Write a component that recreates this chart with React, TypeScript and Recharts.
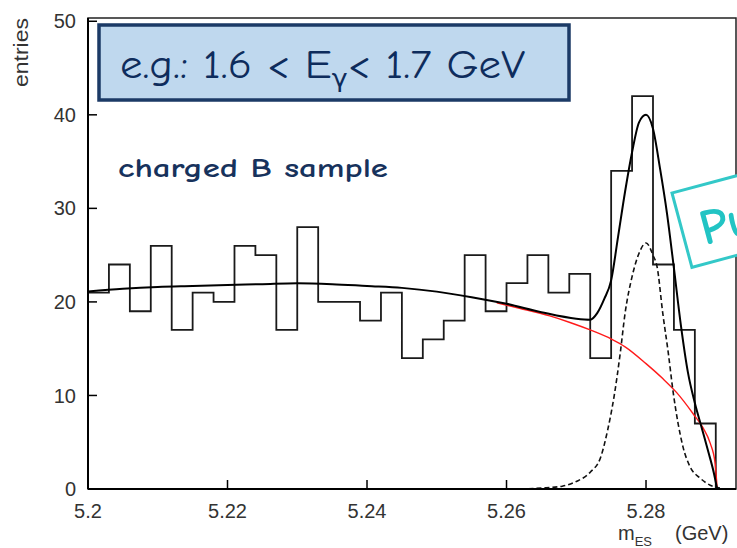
import { ComposedChart, Line, XAxis, YAxis, ReferenceArea } from 'recharts';

// histogram: 30 bins of 3 MeV between 5.20 and 5.29 GeV
const binEdges = [
  5.2, 5.203, 5.206, 5.209, 5.212, 5.215, 5.218, 5.221, 5.224, 5.227,
  5.23, 5.233, 5.236, 5.239, 5.242, 5.245, 5.248, 5.251, 5.254, 5.257,
  5.26, 5.263, 5.266, 5.269, 5.272, 5.275, 5.278, 5.281, 5.284, 5.287, 5.29,
];
const binCounts = [
  21, 24, 19, 26, 17, 21, 20, 26, 25, 17,
  28, 20, 20, 18, 21, 14, 16, 18, 25, 19,
  22, 25, 21, 23, 14, 34, 42, 24, 17, 7,
];

// total fit (background + signal)
const fitMass = [
  5.2, 5.205, 5.21, 5.215, 5.22, 5.225, 5.23, 5.235, 5.24, 5.245,
  5.25, 5.255, 5.26, 5.265, 5.27, 5.272, 5.273, 5.274, 5.275, 5.276,
  5.277, 5.278, 5.279, 5.28, 5.281, 5.282, 5.283, 5.284, 5.285, 5.286,
  5.287, 5.288, 5.289, 5.2897, 5.2902,
];
const fitTotal = [
  21.1, 21.4, 21.6, 21.7, 21.8, 21.9, 22.0, 21.9, 21.7, 21.5,
  21.1, 20.5, 19.8, 18.9, 18.2, 18.1, 18.8, 20.3, 22.3, 27.0,
  31.8, 36.0, 39.2, 40.0, 38.5, 34.3, 29.5, 23.6, 17.5, 12.5,
  9.2, 6.5, 3.8, 1.8, 0,
];

// signal component (dashed)
const sigMass = [
  5.262, 5.265, 5.268, 5.27, 5.272, 5.2735, 5.2745, 5.2754, 5.2763, 5.277,
  5.278, 5.279, 5.28, 5.281, 5.2816, 5.2824, 5.2832, 5.2839, 5.2846, 5.2853,
  5.2863, 5.2877, 5.2892, 5.2906,
];
const sigCounts = [
  0, 0.1, 0.3, 0.8, 1.8, 3.4, 6.3, 9.8, 14.5, 18.8,
  22.7, 25.2, 26.3, 25.0, 23.7, 18.8, 14.5, 10.3, 7.0, 4.5,
  2.4, 1.2, 0.4, 0.1,
];

// background component (red)
const bkgMass = [
  5.2586, 5.262, 5.2662, 5.2691, 5.272, 5.2751, 5.277, 5.28, 5.2824, 5.2844,
  5.2867, 5.2882, 5.2892, 5.2899, 5.2902,
];
const bkgCounts = [
  19.9, 19.3, 18.5, 17.8, 17.0, 16.0, 15.2, 13.4, 11.8, 10.3,
  8.1, 6.5, 4.9, 2.8, 0,
];

const xTicks = [5.2, 5.22, 5.24, 5.26, 5.28];
const yTicks = [0, 10, 20, 30, 40, 50];
const xDomain = [5.2, 5.2929];
const yDomain = [0, 50.35];

const histData = binEdges.map((m, i) => ({ m, y: i < binCounts.length ? binCounts[i] : 0 }));
const fitData = fitMass.map((m, i) => ({ m, y: fitTotal[i] }));
const sigData = sigMass.map((m, i) => ({ m, y: sigCounts[i] }));
const bkgData = bkgMass.map((m, i) => ({ m, y: bkgCounts[i] }));

const axisFont = '"Liberation Sans", Arial, Helvetica, sans-serif';
const comic = '"Comic Sans MS", "Comic Neue", "DejaVu Sans", sans-serif';
const tickStyle = { fill: '#333', fontSize: 20, fontFamily: axisFont };

export default function App() {
  return (
    <div style={{ position: 'absolute', left: 0, top: 0, width: 737, height: 548, overflow: 'hidden', background: '#fff' }}>
      <ComposedChart width={737} height={548} margin={{ top: 18, right: 1, bottom: 0, left: 0 }}>
        <XAxis
          type="number"
          dataKey="m"
          domain={xDomain}
          ticks={xTicks}
          allowDataOverflow
          height={59}
          tickSize={-9}
          tickMargin={24}
          axisLine={{ stroke: '#000', strokeWidth: 2 }}
          tickLine={{ stroke: '#000', strokeWidth: 1.5 }}
          tick={tickStyle}
        />
        <YAxis
          type="number"
          domain={yDomain}
          ticks={yTicks}
          allowDataOverflow
          width={88}
          tickSize={-9}
          tickMargin={21}
          axisLine={{ stroke: '#000', strokeWidth: 2 }}
          tickLine={{ stroke: '#000', strokeWidth: 1.5 }}
          tick={tickStyle}
        />
        <ReferenceArea x1={5.2} x2={5.2929} y1={0} y2={50.35} fill="none" stroke="#222" strokeWidth={1.5} />
        <Line data={histData} dataKey="y" type="stepAfter" stroke="#1a1a1a" strokeWidth={1.8} dot={false} activeDot={false} isAnimationActive={false} />
        <Line data={bkgData} dataKey="y" type="monotone" stroke="#ff1a1a" strokeWidth={1.4} dot={false} activeDot={false} isAnimationActive={false} />
        <Line data={sigData} dataKey="y" type="monotone" stroke="#111" strokeWidth={1.6} strokeDasharray="5 3" dot={false} activeDot={false} isAnimationActive={false} />
        <Line data={fitData} dataKey="y" type="monotone" stroke="#000" strokeWidth={2} dot={false} activeDot={false} isAnimationActive={false} />
      </ComposedChart>

      <svg width={737} height={548} style={{ position: 'absolute', left: 0, top: 0, pointerEvents: 'none' }}>
        <rect x={99} y={25} width={470} height={75} fill="#bfd8ee" stroke="#1b3a66" strokeWidth={3.5} />
        <text x={120} y={78} fontSize={40} fontFamily={comic} fill="#0e2c5c" textLength={405} lengthAdjust="spacingAndGlyphs">
          e.g.: 1.6 &lt; E<tspan fontSize={24} dy={9}>γ</tspan><tspan fontSize={40} dy={-9}>&lt; 1.7 GeV</tspan>
        </text>
        <text x={118} y={177} fontSize={27} fontWeight="bold" fontFamily={comic} fill="#17325c" textLength={270} lengthAdjust="spacingAndGlyphs">
          charged B sample
        </text>
        <text x={-18} y={28} transform="rotate(-90)" textAnchor="end" fontSize={20} fontFamily={axisFont} fill="#333" textLength={69} lengthAdjust="spacingAndGlyphs">
          entries
        </text>
        <text x={618} y={540} fontSize={20} fontFamily={axisFont} fill="#333">
          m<tspan fontSize={13} dy={6}>ES</tspan>
        </text>
        <text x={675} y={540} fontSize={20} fontFamily={axisFont} fill="#333">
          (GeV)
        </text>
        <g transform="translate(672,193) rotate(-15)">
          <rect x={0} y={0} width={200} height={77} fill="#fff" stroke="#33c8c8" strokeWidth={3} />
          <text x={18} y={59} fontSize={50} fontWeight="bold" fontFamily={comic} fill="#22c4c4">
            Pu
          </text>
        </g>
      </svg>
    </div>
  );
}
